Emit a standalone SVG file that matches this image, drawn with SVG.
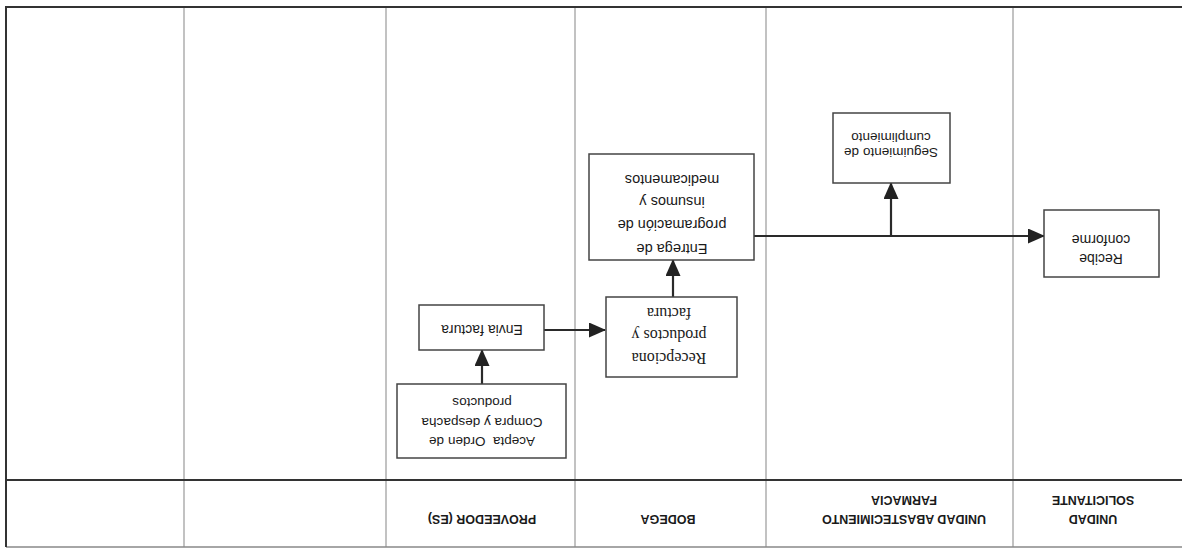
<svg xmlns="http://www.w3.org/2000/svg" width="1182" height="550" viewBox="0 0 1182 550">
<style>
.frame{stroke:#333;stroke-width:2;fill:none}
.col{stroke:#999;stroke-width:1.2;fill:none}
.box{fill:#fff;stroke:#444;stroke-width:1.5}
.t{font-family:"Liberation Sans",Arial,sans-serif;fill:#1a1a1a;text-anchor:middle}
.s{font-family:"Liberation Serif","Times New Roman",serif;fill:#1a1a1a;text-anchor:middle}
.h{font-family:"Liberation Sans",Arial,sans-serif;font-weight:bold;font-size:12.5px;fill:#1a1a1a;text-anchor:middle}
.c{stroke:#2a2a2a;stroke-width:2.2;fill:none}
</style>
<defs>
<marker id="ah" markerUnits="userSpaceOnUse" markerWidth="17" markerHeight="15" refX="16" refY="7.5" orient="auto">
<path d="M0,0 L17,7.5 L0,15 Z" fill="#222"/>
</marker>
</defs>
<rect width="1182" height="550" fill="#fff"/>
<g transform="rotate(180 591 275)">
<g id="lanes">
<line class="col" x1="169" y1="3" x2="169" y2="543"/>
<line class="col" x1="416" y1="3" x2="416" y2="543"/>
<line class="col" x1="607" y1="3" x2="607" y2="543"/>
<line class="col" x1="796" y1="3" x2="796" y2="543"/>
<line class="col" x1="998" y1="3" x2="998" y2="543"/>
<line x1="0" y1="3" x2="1176" y2="3" stroke="#888" stroke-width="1.5"/>
<line class="frame" x1="0" y1="70" x2="1176" y2="70"/>
<line class="frame" x1="0" y1="543" x2="1177" y2="543"/>
<line class="frame" x1="1176" y1="3" x2="1176" y2="544"/>
<text class="h" x="89" y="35.5">UNIDAD</text>
<text class="h" x="89" y="54.5">SOLICITANTE</text>
<text class="h" x="278" y="35.5">UNIDAD ABASTECIMIENTO</text>
<text class="h" x="278" y="54.5">FARMACIA</text>
<text class="h" x="514" y="35.5">BODEGA</text>
<text class="h" x="700" y="35.5">PROVEEDOR (ES)</text>
</g>
<g id="connectors">
<line class="c" x1="700" y1="166" x2="700" y2="200" marker-end="url(#ah)"/>
<line class="c" x1="638" y1="220" x2="577" y2="220" marker-end="url(#ah)"/>
<line class="c" x1="509" y1="253" x2="509" y2="290" marker-end="url(#ah)"/>
<line class="c" x1="428" y1="314" x2="138" y2="314" marker-end="url(#ah)"/>
<line class="c" x1="291" y1="314" x2="291" y2="367" marker-end="url(#ah)"/>
</g>
<g id="acepta">
<rect class="box" x="616" y="92" width="169" height="74"/>
<text class="t" font-size="13.5" x="700" y="113" style="white-space:pre">Acepta  Orden de</text>
<text class="t" font-size="13.5" x="700" y="132">Compra y despacha</text>
<text class="t" font-size="13.5" x="700" y="152">productos</text>
</g>
<g id="envia">
<rect class="box" x="638" y="200" width="125" height="45"/>
<text class="t" font-size="14" x="700" y="225">Envia factura</text>
</g>
<g id="recepciona">
<rect class="box" x="445" y="173" width="131" height="80"/>
<text class="s" font-size="16" x="513" y="197">Recepciona</text>
<text class="s" font-size="16" x="513" y="220">productos y</text>
<text class="s" font-size="16" x="513" y="242">factura</text>
</g>
<g id="entrega">
<rect class="box" x="428" y="290" width="165" height="106"/>
<text class="t" font-size="14.5" x="510" y="306">Entrega de</text>
<text class="t" font-size="14.5" x="510" y="330">programación de</text>
<text class="t" font-size="14.5" x="510" y="353">insumos y</text>
<text class="t" font-size="14.5" x="510" y="375">medicamentos</text>
</g>
<g id="seguimiento">
<rect class="box" x="232" y="367" width="117" height="70"/>
<text class="t" font-size="13.5" x="291" y="402">Seguimiento de</text>
<text class="t" font-size="13.5" x="291" y="417">cumplimiento</text>
</g>
<g id="recibe">
<rect class="box" x="23" y="273" width="115" height="67"/>
<text class="t" font-size="14" x="81" y="296">Recibe</text>
<text class="t" font-size="14" x="81" y="315">conforme</text>
</g>
</g>
</svg>
